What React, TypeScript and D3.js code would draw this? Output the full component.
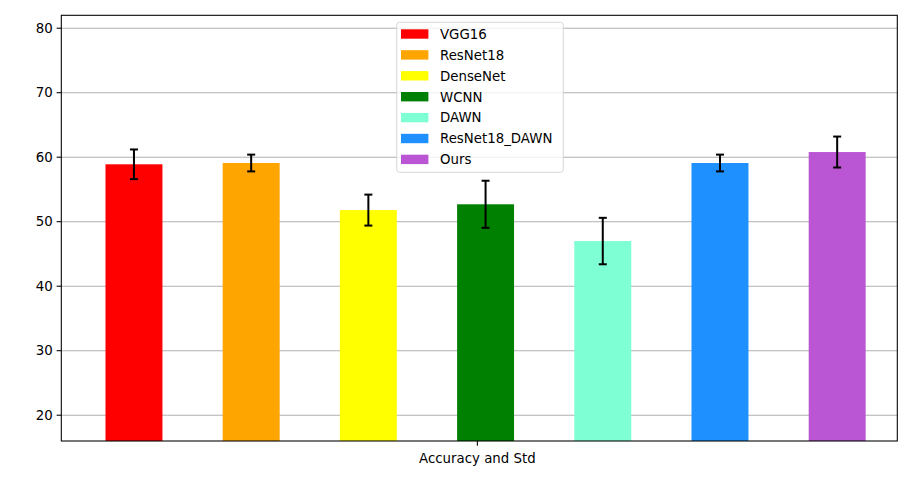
import React from "react";
import * as d3 from "d3";

const categories = ["VGG16", "ResNet18", "DenseNet", "WCNN", "DAWN", "ResNet18_DAWN", "Ours"];
const means = [58.9, 59.1, 51.8, 52.7, 47.0, 59.1, 60.8];
const stds = [2.3, 1.3, 2.4, 3.65, 3.6, 1.3, 2.4];
const colors = ["red", "orange", "yellow", "green", "aquamarine", "dodgerblue", "mediumorchid"];
const yTicks = [20, 30, 40, 50, 60, 70, 80];
const xTickLabel = "Accuracy and Std";
const xTickPos = 2.93;

const W = 919;
const H = 480;
const M = { left: 61.3, right: 897.3, top: 15.3, bottom: 441 };
const FONT = "DejaVu Sans, sans-serif";

export default function App() {
  const x = d3.scaleLinear().domain([-0.62, 6.513]).range([M.left, M.right]);
  const y = d3.scaleLinear().domain([16, 82]).range([M.bottom, M.top]);
  const bw = x(0.486) - x(0);
  const cap = 4;

  const lg = { x: 396.7, y: 22.3, w: 166.6, h: 150, row: 20.9 };

  return (
    <svg
      width={W}
      height={H}
      style={{ position: "absolute", left: 0, top: 0, background: "white" }}
      fontFamily={FONT}
    >
      <rect x={0} y={0} width={W} height={H} fill="white" />
      {/* grid */}
      {yTicks.map((t) => (
        <line key={"g" + t} x1={M.left} x2={M.right} y1={y(t)} y2={y(t)} stroke="#b0b0b0" strokeWidth={1.07} />
      ))}
      {/* bars */}
      {categories.map((c, i) => (
        <rect
          key={c}
          x={x(i) - bw / 2}
          y={y(means[i])}
          width={bw}
          height={M.bottom - y(means[i])}
          fill={colors[i]}
        />
      ))}
      {/* error bars */}
      {categories.map((c, i) => {
        const cx = x(i);
        const y1 = y(means[i] + stds[i]);
        const y2 = y(means[i] - stds[i]);
        return (
          <g key={"e" + c} stroke="black" strokeWidth={2}>
            <line x1={cx} x2={cx} y1={y1} y2={y2} />
            <line x1={cx - cap} x2={cx + cap} y1={y1} y2={y1} />
            <line x1={cx - cap} x2={cx + cap} y1={y2} y2={y2} />
          </g>
        );
      })}
      {/* spines */}
      <rect
        x={M.left}
        y={M.top}
        width={M.right - M.left}
        height={M.bottom - M.top}
        fill="none"
        stroke="black"
        strokeWidth={1.07}
      />
      {/* y ticks */}
      {yTicks.map((t) => (
        <g key={"t" + t}>
          <line x1={M.left - 4.7} x2={M.left} y1={y(t)} y2={y(t)} stroke="black" strokeWidth={1.07} />
          <text x={M.left - 8.5} y={y(t)} dy="0.36em" textAnchor="end" fontSize={13.33} fill="black">
            {t}
          </text>
        </g>
      ))}
      {/* x tick */}
      <line x1={x(xTickPos)} x2={x(xTickPos)} y1={M.bottom} y2={M.bottom + 4.7} stroke="black" strokeWidth={1.07} />
      <text x={x(xTickPos)} y={M.bottom + 21.5} textAnchor="middle" fontSize={13.33} fill="black">
        {xTickLabel}
      </text>
      {/* legend */}
      <rect
        x={lg.x}
        y={lg.y}
        width={lg.w}
        height={lg.h}
        rx={3}
        fill="white"
        fillOpacity={0.8}
        stroke="#cccccc"
        strokeOpacity={0.8}
        strokeWidth={1}
      />
      {categories.map((c, i) => {
        const cy = lg.y + 11.8 + i * lg.row;
        return (
          <g key={"l" + c}>
            <rect x={lg.x + 4.3} y={cy - 4.8} width={27.4} height={9.4} fill={colors[i]} />
            <text x={lg.x + 43.3} y={cy} dy="0.36em" fontSize={13.33} fill="black">
              {c}
            </text>
          </g>
        );
      })}
    </svg>
  );
}
